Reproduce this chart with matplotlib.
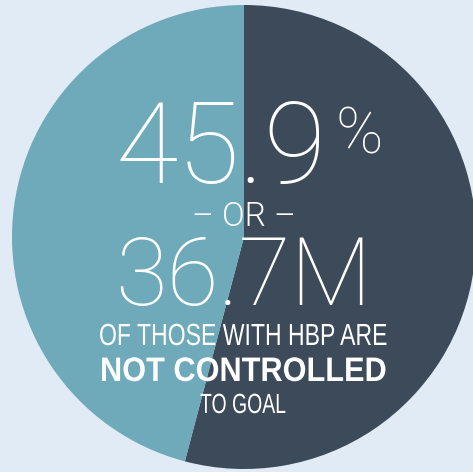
import matplotlib
matplotlib.use('Agg')
import matplotlib.pyplot as plt
from matplotlib import patheffects
from matplotlib.transforms import Affine2D

# slice values (percent of people with HBP)
labels = ['Not controlled', 'Controlled']
values = [54.1, 45.9]
colors = ['#3d4a59', '#6eaaba']

big_pct = '45.9'
big_count = '36.7M'
caption = ['OF THOSE WITH HBP ARE', 'NOT CONTROLLED', 'TO GOAL']

W, H = 473, 472
fig = plt.figure(figsize=(W / 100, H / 100), dpi=100, facecolor='#e1ebf5')
ax = fig.add_axes([0, 0, 1, 1])
ax.set_facecolor('#e1ebf5')

# pie centre at (244, 237) px, radius 232 px
r_px = 232
cx, cy = 244, 237
ax.pie(values, colors=colors, startangle=90, counterclock=False,
       radius=1, wedgeprops=dict(linewidth=0))
ax.set_xlim(-cx / r_px, (W - cx) / r_px)
ax.set_ylim(-(H - cy) / r_px, cy / r_px)
ax.set_aspect('auto')
ax.axis('off')


class Squeeze(patheffects.AbstractPathEffect):
    """squash text horizontally around x0 (display px) - fakes a condensed face"""
    def __init__(self, sx, x0):
        super().__init__()
        self.sx, self.x0 = sx, x0

    def draw_path(self, renderer, gc, tpath, affine, rgbFace=None):
        t = affine + Affine2D().translate(-self.x0, 0).scale(self.sx, 1).translate(self.x0, 0)
        renderer.draw_path(gc, tpath, t, rgbFace)


def ftext(x, y, s, **kw):
    # x, y in pixels from top-left
    return fig.text(x / W, 1 - y / H, s, color='white', **kw)


thin = dict(family=['Roboto', 'DejaVu Sans'], weight=100)
narrow = ['Liberation Sans', 'DejaVu Sans']

ftext(115, 183, big_pct, fontsize=82, ha='left', va='baseline', **thin)
ftext(335, 153, '%', fontsize=46, ha='left', va='baseline', **thin)
ftext(244, 226, '\u2013 OR \u2013', fontsize=24, ha='center', va='baseline',
      family=['Roboto', 'DejaVu Sans'], weight=300)
ftext(244, 305, big_count, fontsize=68, ha='center', va='baseline', **thin)

# caption lines: (baseline y, fontsize, weight, target width px)
cap_style = [(345, 22, 'normal', 288), (381, 24.5, 'bold', 286), (413, 20, 'normal', 86)]
renderer = fig.canvas.get_renderer()
for line, (yb, fs, wt, target) in zip(caption, cap_style):
    t = ftext(243, yb, line, fontsize=fs, ha='center', va='baseline',
              family=narrow, weight=wt)
    w = t.get_window_extent(renderer).width
    t.set_path_effects([Squeeze(target / w, 243)])

fig.savefig('out.png', dpi=100, facecolor=fig.get_facecolor())
